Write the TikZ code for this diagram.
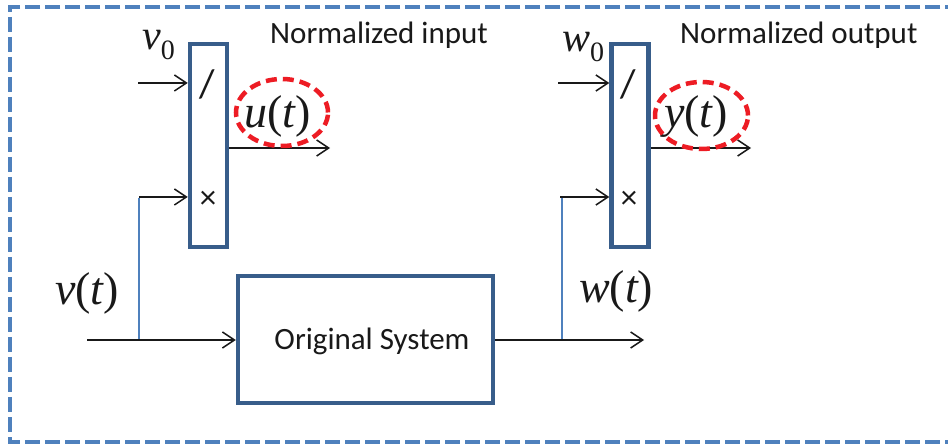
\documentclass[tikz,border=0pt]{standalone}
\usepackage{fontspec}
\setmainfont{Carlito}
\newfontfamily\tnr{Liberation Serif}
\usetikzlibrary{arrows.meta}
\definecolor{boxblue}{RGB}{56,93,138}
\definecolor{lightblue}{RGB}{79,129,189}
\definecolor{redd}{RGB}{237,28,36}
\definecolor{ink}{RGB}{25,25,25}
\newcommand\mlab[2]{{\tnr\fontsize{46}{46}\selectfont\itshape #1\upshape(\itshape #2\upshape)}}
\newcommand\msub[2]{{\tnr\fontsize{42}{42}\selectfont\itshape #1\upshape\raisebox{-0.22em}{\fontsize{28}{28}\selectfont #2}}}
\tikzset{
  sbox/.style={draw=boxblue, line width=4.5pt, fill=white, minimum width=37pt, minimum height=203pt, inner sep=0pt},
  obox/.style={draw=boxblue, line width=4.5pt, fill=white, minimum width=255pt, minimum height=127pt, inner sep=0pt},
  arr/.style={draw=ink, line width=1.5pt, -{Straight Barb[length=12pt, width=16pt, line width=1.5pt]}},
  tap/.style={draw=lightblue, line width=1.6pt},
  lab/.style={anchor=base west, inner sep=0pt, text=ink},
  op/.style={inner sep=0pt, text=ink, font=\fontsize{33}{33}\selectfont},
  slashop/.style={inner sep=0pt, text=ink, font=\fontsize{40}{40}\selectfont},
  ring/.style={draw=redd, line width=4.5pt, dash pattern=on 11pt off 6pt},
}
\begin{document}
\begin{tikzpicture}[x=1pt,y=-1pt]
\useasboundingbox (0,0) rectangle (948,446);
\fill[white] (0,0) rectangle (948,446);
% outer dashed frame (right side beyond picture)
\draw[lightblue, line width=4.5pt, dash pattern=on 15pt off 5pt] (960,7) -- (10,7) -- (10,442) -- (960,442);

% blocks
\node[sbox] (nb1) at (208.5,145.5) {};
\node[sbox] (nb2) at (630,145.5) {};
\node[obox] (os) at (365.5,339.5) {};
\node[inner sep=0pt, text=ink, font=\fontsize{31}{31}\selectfont] (ostxt) at (372,341) {Original System};

\node[slashop] (div1) at (207,84) {/};
\node[op] (mul1) at (208,200) {×};
\node[slashop] (div2) at (628,84) {/};
\node[op] (mul2) at (629,200) {×};

% coordinates
\coordinate (a1) at (138,83);
\coordinate (b1) at (139,197);
\coordinate (j1) at (139,340);
\coordinate (vin) at (87,340);
\coordinate (uo) at (330,148);
\coordinate (a2) at (558,83);
\coordinate (b2) at (560,197);
\coordinate (j2) at (562,340);
\coordinate (wo) at (644,340);
\coordinate (yo) at (751,148);

% connectors
\draw[tap] (j1) -- (139,198);
\draw[tap] (j2) -- (562,198);
\draw[arr] (a1) -- (a1 -| nb1.west);
\draw[arr] (b1) -- (b1 -| nb1.west);
\draw[arr] (vin) -- (vin -| os.west);
\draw[arr] (uo -| nb1.east) -- (uo);
\draw[arr] (a2) -- (a2 -| nb2.west);
\draw[arr] (b2) -- (b2 -| nb2.west);
\draw[arr] (wo -| os.east) -- (wo);
\draw[arr] (yo -| nb2.east) -- (yo);

% labels
\node[lab, font=\fontsize{31}{31}\selectfont] (tin) at (270,44) {Normalized input};
\node[lab, font=\fontsize{31}{31}\selectfont] (tout) at (680,44) {Normalized output};
\node[lab] (v0) at (142,50) {\msub{v}{0}};
\node[lab] (w0) at (562,52) {\msub{w}{0}};
\node[lab] (ut) at (244,128) {\mlab{u}{t}};
\node[lab] (yt) at (664,128) {\mlab{y}{t}};
\node[lab] (vt) at (55,305) {\mlab{v}{t}};
\node[lab] (wt) at (579,303) {\mlab{w}{t}};

% red dashed rings
\draw[ring] (282,112.5) ellipse [x radius=46pt, y radius=33.5pt];
\draw[ring] (701.5,115.5) ellipse [x radius=46.5pt, y radius=33.5pt];
\end{tikzpicture}
\end{document}
